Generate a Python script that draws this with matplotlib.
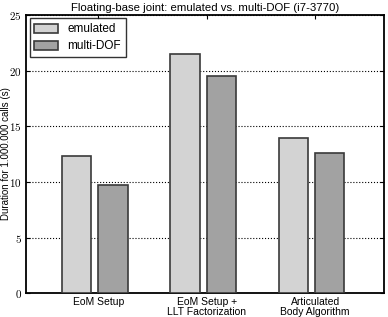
import numpy as np
import matplotlib
matplotlib.use('Agg')
import matplotlib.pyplot as plt
from matplotlib.ticker import FuncFormatter

plt.rcParams['mathtext.fontset'] = 'cm'
plt.rcParams['font.family'] = ['Liberation Sans', 'DejaVu Sans']

groups = ['EoM Setup', 'EoM Setup +\nLLT Factorization', 'Articulated\nBody Algorithm']
emulated = [12.3, 21.5, 13.9]
multidof = [9.7, 19.5, 12.6]

x = np.arange(len(groups))
w = 0.27

fig = plt.figure(figsize=(3.88, 3.17), dpi=100)
ax = fig.add_axes([0.067, 0.075, 0.923, 0.878])

ax.bar(x - 0.065 - w, emulated, w, align='edge', color='#d3d3d3', edgecolor='#3a3a3a',
       linewidth=1.2, label='emulated', zorder=3)
ax.bar(x, multidof, w, align='edge', color='#a2a2a2', edgecolor='#3a3a3a',
       linewidth=1.2, label='multi-DOF', zorder=3)

ax.set_xlim(-0.667, 2.636)
ax.set_ylim(0, 25)
ax.set_xticks(x)
ax.set_xticklabels(groups, fontsize=7.5, linespacing=1.0, va='top')
ax.set_yticks([0, 5, 10, 15, 20, 25])
ax.yaxis.set_major_formatter(FuncFormatter(lambda v, p: '$%d$' % v))
ax.tick_params(axis='y', labelsize=8, direction='in', right=True, length=3, pad=3)
ax.tick_params(axis='x', direction='in', top=True, length=3, pad=3)
ax.grid(axis='y', linestyle=':', color='black', linewidth=0.8, zorder=0)
for s in ax.spines.values():
    s.set_linewidth(1.3)

ax.set_ylabel('Duration for 1.000.000 calls (s)', fontsize=7)
ax.yaxis.set_label_coords(-0.043, 0.5)
ax.set_title('Floating-base joint: emulated vs. multi-DOF (i7-3770)', fontsize=8.2, pad=3)
leg = ax.legend(loc='upper left', fontsize=8.5, fancybox=False, edgecolor='black',
                borderaxespad=0.3, handlelength=2.0, handleheight=0.8, labelspacing=0.45)
leg.get_frame().set_linewidth(1.0)

plt.savefig('out.png', dpi=100)
